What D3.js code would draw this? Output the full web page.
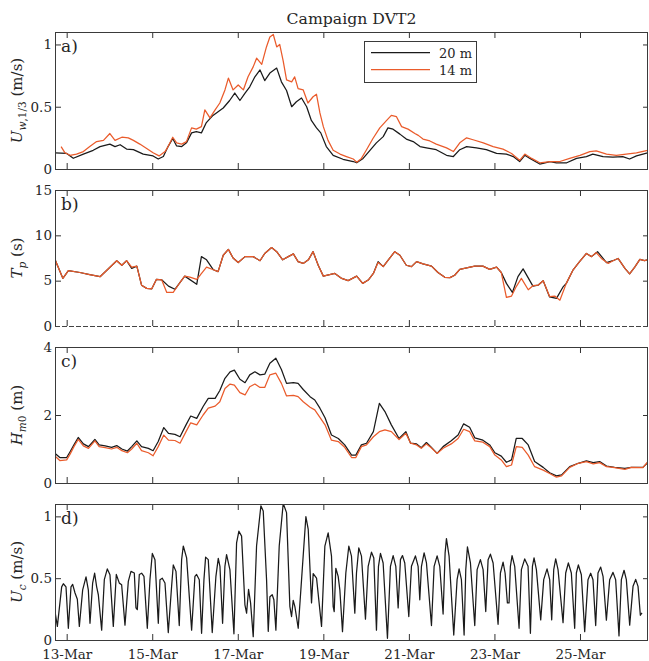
<!DOCTYPE html>
<html>
<head>
<meta charset="utf-8">
<script src="https://cdn.jsdelivr.net/npm/d3@7"></script>
<style>
  body { margin: 0; background: #fff; }
  text { font-family: "DejaVu Serif", serif; fill: #262626; }
</style>
</head>
<body>
<svg id="chart" width="649" height="661"></svg>
<script>
// time is in days from 13-Mar 00:00
const xStartDay = -0.273;
const xEndDay = 13.59;
const tickDays = [0, 2, 4, 6, 8, 10, 12];

// a) Uw,1/3 (m/s)
const uw20Day = [-0.27, 0, 0.155, 0.39, 0.62, 0.78, 1.01, 1.13, 1.25, 1.4, 1.56, 1.79, 2.02, 2.14, 2.26, 2.37, 2.48, 2.57, 2.69, 2.8, 2.92, 3.03, 3.15, 3.26, 3.42, 3.54, 3.66, 3.81, 3.93, 4.05, 4.17, 4.28, 4.4, 4.52, 4.63, 4.75, 4.91, 5.02, 5.14, 5.26, 5.37, 5.49, 5.61, 5.72, 5.84, 5.94, 6.07, 6.23, 6.46, 6.7, 6.78, 6.93, 7.09, 7.24, 7.4, 7.51, 7.63, 7.79, 7.94, 8.1, 8.26, 8.41, 8.64, 8.88, 9.04, 9.19, 9.35, 9.58, 9.81, 10.05, 10.28, 10.44, 10.59, 10.71, 10.83, 11.06, 11.3, 11.45, 11.69, 11.92, 12.15, 12.3, 12.54, 12.77, 13.0, 13.16, 13.32, 13.58];
const uw20 = [0.13, 0.125, 0.086, 0.12, 0.15, 0.18, 0.2, 0.18, 0.195, 0.16, 0.155, 0.12, 0.105, 0.08, 0.1, 0.18, 0.245, 0.185, 0.18, 0.21, 0.29, 0.3, 0.29, 0.37, 0.43, 0.46, 0.49, 0.55, 0.61, 0.55, 0.61, 0.66, 0.74, 0.795, 0.71, 0.77, 0.81, 0.7, 0.63, 0.5, 0.54, 0.57, 0.5, 0.39, 0.33, 0.29, 0.18, 0.11, 0.078, 0.06, 0.05, 0.085, 0.15, 0.21, 0.26, 0.33, 0.32, 0.28, 0.24, 0.22, 0.18, 0.17, 0.155, 0.11, 0.1, 0.155, 0.18, 0.17, 0.155, 0.125, 0.12, 0.1, 0.06, 0.11, 0.085, 0.04, 0.06, 0.05, 0.05, 0.085, 0.1, 0.12, 0.1, 0.095, 0.1, 0.08, 0.105, 0.13];
const uw14Day = [-0.13, -0.04, 0.08, 0.23, 0.39, 0.54, 0.7, 0.86, 1.01, 1.13, 1.29, 1.44, 1.56, 1.71, 1.87, 2.02, 2.16, 2.3, 2.37, 2.48, 2.57, 2.69, 2.8, 2.92, 3.03, 3.15, 3.23, 3.35, 3.47, 3.58, 3.7, 3.78, 3.89, 4.01, 4.13, 4.24, 4.36, 4.44, 4.56, 4.67, 4.75, 4.83, 4.91, 4.98, 5.06, 5.14, 5.26, 5.33, 5.41, 5.53, 5.64, 5.76, 5.84, 5.92, 6.0, 6.11, 6.23, 6.39, 6.54, 6.7, 6.78, 6.89, 7.01, 7.16, 7.32, 7.48, 7.59, 7.71, 7.83, 7.98, 8.14, 8.22, 8.33, 8.49, 8.64, 8.88, 9.04, 9.19, 9.35, 9.5, 9.74, 9.97, 10.2, 10.4, 10.59, 10.71, 10.87, 11.06, 11.3, 11.53, 11.76, 12.0, 12.23, 12.38, 12.62, 12.85, 13.08, 13.32, 13.58];
const uw14 = [0.18, 0.13, 0.11, 0.12, 0.14, 0.18, 0.22, 0.23, 0.285, 0.23, 0.255, 0.25, 0.23, 0.2, 0.165, 0.13, 0.105, 0.14, 0.18, 0.255, 0.21, 0.2, 0.22, 0.33, 0.32, 0.34, 0.475, 0.41, 0.475, 0.53, 0.635, 0.73, 0.635, 0.675, 0.635, 0.74, 0.82, 0.89, 0.84, 0.98, 1.06, 1.08, 0.98, 1.0, 0.87, 0.715, 0.7, 0.74, 0.645, 0.635, 0.53, 0.58, 0.6, 0.45, 0.34, 0.23, 0.15, 0.12, 0.1, 0.08, 0.055, 0.085, 0.155, 0.245, 0.33, 0.39, 0.43, 0.42, 0.34, 0.32, 0.285, 0.27, 0.24, 0.225, 0.2, 0.17, 0.14, 0.21, 0.25, 0.235, 0.21, 0.18, 0.16, 0.125, 0.07, 0.12, 0.085, 0.05, 0.06, 0.06, 0.085, 0.11, 0.14, 0.145, 0.12, 0.11, 0.12, 0.13, 0.15];

// b) Tp (s)
const tp20Day = [-0.27, -0.09, 0.04, 0.31, 0.51, 0.78, 1.17, 1.29, 1.4, 1.52, 1.64, 1.75, 1.87, 1.99, 2.1, 2.22, 2.38, 2.53, 2.76, 3.04, 3.15, 3.27, 3.43, 3.54, 3.66, 3.78, 3.89, 4.01, 4.17, 4.36, 4.52, 4.63, 4.79, 4.91, 5.05, 5.18, 5.3, 5.41, 5.53, 5.65, 5.76, 5.88, 6.0, 6.27, 6.43, 6.58, 6.78, 6.92, 7.05, 7.17, 7.28, 7.4, 7.52, 7.67, 7.79, 7.94, 8.06, 8.18, 8.33, 8.53, 8.68, 8.84, 8.96, 9.07, 9.19, 9.35, 9.54, 9.73, 9.89, 10.05, 10.16, 10.28, 10.42, 10.55, 10.67, 10.9, 11.02, 11.14, 11.29, 11.45, 11.61, 11.68, 11.84, 11.99, 12.15, 12.27, 12.41, 12.62, 12.77, 12.89, 13.05, 13.16, 13.28, 13.4, 13.51, 13.61];
const tp20 = [7.3, 5.26, 6.1, 5.9, 5.7, 5.44, 7.2, 6.7, 7.2, 6.35, 6.6, 4.5, 4.15, 4.1, 5.15, 5.1, 4.4, 4.05, 5.5, 4.6, 7.65, 7.3, 6.2, 6.0, 7.8, 8.45, 7.5, 7.0, 7.65, 7.65, 7.2, 8.0, 8.65, 8.2, 7.3, 7.65, 7.95, 7.1, 6.9, 7.3, 8.2, 6.7, 5.5, 5.8, 5.25, 5.0, 5.5, 4.7, 5.07, 5.8, 7.1, 6.55, 7.3, 8.2, 7.8, 6.7, 6.55, 7.1, 6.85, 6.6, 5.9, 5.37, 5.33, 5.6, 6.25, 6.4, 6.6, 6.6, 6.25, 6.5, 5.9, 4.7, 3.7, 5.45, 6.3, 4.4, 4.5, 5.0, 3.2, 3.05, 4.35, 4.7, 6.2, 7.1, 8.0, 7.65, 8.2, 7.0, 7.2, 7.45, 6.35, 5.75, 6.5, 7.35, 7.2, 7.35];
const tp14Day = [-0.27, -0.09, 0.04, 0.31, 0.51, 0.78, 1.17, 1.29, 1.4, 1.52, 1.64, 1.75, 1.87, 1.99, 2.1, 2.22, 2.34, 2.49, 2.65, 2.76, 2.88, 3.04, 3.12, 3.27, 3.43, 3.54, 3.66, 3.78, 3.89, 4.01, 4.17, 4.36, 4.52, 4.63, 4.79, 4.91, 5.05, 5.18, 5.3, 5.41, 5.53, 5.65, 5.76, 5.88, 6.0, 6.27, 6.43, 6.58, 6.78, 6.92, 7.05, 7.17, 7.28, 7.4, 7.52, 7.67, 7.79, 7.94, 8.06, 8.18, 8.33, 8.53, 8.68, 8.84, 8.96, 9.07, 9.19, 9.35, 9.54, 9.73, 9.89, 10.05, 10.16, 10.28, 10.4, 10.51, 10.63, 10.79, 10.9, 11.02, 11.14, 11.29, 11.41, 11.53, 11.68, 11.84, 11.99, 12.15, 12.27, 12.38, 12.5, 12.66, 12.77, 12.89, 13.05, 13.16, 13.28, 13.4, 13.51, 13.61];
const tp14 = [7.3, 5.26, 6.1, 5.9, 5.7, 5.44, 7.2, 6.7, 7.2, 6.5, 6.6, 4.5, 4.15, 4.1, 5.15, 5.1, 3.7, 3.7, 4.8, 5.5, 5.4, 5.15, 5.6, 6.5, 6.2, 6.0, 7.8, 8.45, 7.5, 7.0, 7.65, 7.65, 7.2, 8.0, 8.65, 8.2, 7.3, 7.65, 7.95, 7.1, 6.9, 7.3, 8.2, 6.7, 5.5, 5.8, 5.25, 5.0, 5.5, 4.7, 5.07, 5.8, 7.0, 6.55, 7.3, 8.2, 7.8, 6.7, 6.55, 7.1, 6.85, 6.6, 5.9, 5.37, 5.33, 5.6, 6.25, 6.4, 6.6, 6.6, 6.25, 6.5, 5.9, 3.15, 3.3, 4.35, 5.25, 4.0, 4.45, 4.5, 5.0, 3.25, 3.3, 2.85, 4.7, 6.2, 7.1, 8.0, 7.65, 8.1, 7.45, 6.9, 7.2, 7.45, 6.35, 5.75, 6.5, 7.35, 7.2, 7.35];

// c) Hm0 (m)
const hmDay = [-0.27, -0.16, 0, 0.08, 0.17, 0.27, 0.39, 0.51, 0.66, 0.76, 0.9, 1.05, 1.17, 1.29, 1.42, 1.52, 1.64, 1.75, 1.91, 2.02, 2.14, 2.27, 2.38, 2.53, 2.65, 2.79, 2.9, 3.04, 3.19, 3.31, 3.47, 3.58, 3.7, 3.82, 3.92, 4.05, 4.17, 4.28, 4.4, 4.52, 4.63, 4.75, 4.89, 5.02, 5.14, 5.3, 5.41, 5.53, 5.69, 5.8, 5.92, 6.04, 6.19, 6.35, 6.5, 6.66, 6.76, 6.89, 7.01, 7.17, 7.31, 7.44, 7.59, 7.77, 7.93, 8.04, 8.18, 8.29, 8.41, 8.51, 8.66, 8.8, 8.99, 9.15, 9.28, 9.42, 9.54, 9.73, 9.89, 10.01, 10.16, 10.28, 10.4, 10.51, 10.65, 10.79, 10.94, 11.14, 11.29, 11.45, 11.57, 11.76, 11.96, 12.15, 12.31, 12.46, 12.62, 12.81, 13.05, 13.2, 13.47, 13.61];
const hm20 = [0.87, 0.75, 0.75, 0.92, 1.12, 1.34, 1.15, 1.07, 1.28, 1.12, 1.09, 1.05, 1.1, 1.0, 0.94, 1.07, 1.24, 1.07, 1.02, 0.95, 1.22, 1.63, 1.46, 1.43, 1.36, 1.71, 1.97, 1.9, 2.25, 2.49, 2.49, 2.72, 3.08, 3.27, 3.32, 3.05, 2.95, 3.18, 3.27, 3.18, 3.2, 3.52, 3.67, 3.34, 2.93, 2.95, 2.93, 2.75, 2.54, 2.44, 2.2, 1.92, 1.41, 1.31, 1.12, 0.82, 0.82, 1.12, 1.17, 1.51, 2.34, 2.1, 1.71, 1.31, 1.51, 1.17, 1.15, 1.04, 1.19, 1.07, 0.87, 1.07, 1.24, 1.41, 1.74, 1.64, 1.33, 1.26, 1.12, 0.89, 0.79, 0.61, 0.68, 1.31, 1.31, 1.12, 0.63, 0.46, 0.3, 0.21, 0.24, 0.48, 0.58, 0.65, 0.6, 0.63, 0.5, 0.46, 0.43, 0.46, 0.46, 0.63];
const hm14 = [0.79, 0.66, 0.68, 0.85, 1.07, 1.28, 1.09, 1.02, 1.24, 1.07, 1.04, 1.0, 1.05, 0.95, 0.89, 1.0, 1.17, 0.95, 0.89, 0.8, 1.07, 1.41, 1.26, 1.25, 1.17, 1.51, 1.77, 1.71, 2.0, 2.2, 2.26, 2.39, 2.78, 2.91, 2.88, 2.66, 2.59, 2.83, 2.91, 2.81, 2.81, 3.18, 3.23, 2.93, 2.56, 2.58, 2.54, 2.39, 2.23, 2.15, 1.93, 1.71, 1.26, 1.22, 1.05, 0.75, 0.75, 1.07, 1.12, 1.36, 1.51, 1.56, 1.51, 1.28, 1.46, 1.17, 1.12, 1.02, 1.15, 1.05, 0.87, 1.02, 1.15, 1.31, 1.58, 1.51, 1.24, 1.2, 1.07, 0.82, 0.68, 0.48, 0.53, 1.07, 1.05, 0.82, 0.48, 0.38, 0.28, 0.17, 0.21, 0.46, 0.58, 0.63, 0.56, 0.6, 0.48, 0.45, 0.4, 0.46, 0.45, 0.66];

// d) Uc (m/s)
const ucDay = [-0.273, -0.218, -0.117, -0.078, -0.016, 0.039, 0.101, 0.14, 0.195, 0.249, 0.296, 0.374, 0.452, 0.506, 0.545, 0.607, 0.654, 0.701, 0.74, 0.818, 0.88, 0.95, 1.012, 1.09, 1.16, 1.231, 1.285, 1.363, 1.441, 1.503, 1.581, 1.62, 1.651, 1.698, 1.752, 1.807, 1.885, 1.947, 2.002, 2.064, 2.142, 2.181, 2.235, 2.298, 2.375, 2.453, 2.492, 2.555, 2.632, 2.687, 2.726, 2.804, 2.921, 2.998, 3.037, 3.1, 3.154, 3.209, 3.248, 3.31, 3.403, 3.489, 3.544, 3.583, 3.645, 3.699, 3.738, 3.816, 3.91, 3.972, 4.026, 4.089, 4.167, 4.206, 4.252, 4.299, 4.361, 4.439, 4.54, 4.595, 4.673, 4.712, 4.751, 4.805, 4.844, 4.891, 4.969, 5.062, 5.14, 5.218, 5.257, 5.296, 5.335, 5.413, 5.491, 5.592, 5.647, 5.724, 5.763, 5.841, 5.958, 6.036, 6.113, 6.191, 6.23, 6.254, 6.292, 6.347, 6.386, 6.448, 6.526, 6.596, 6.658, 6.736, 6.775, 6.829, 6.892, 6.985, 7.048, 7.126, 7.18, 7.242, 7.289, 7.336, 7.398, 7.499, 7.569, 7.632, 7.694, 7.749, 7.803, 7.85, 7.904, 7.998, 8.06, 8.153, 8.216, 8.255, 8.294, 8.356, 8.411, 8.528, 8.59, 8.66, 8.722, 8.8, 8.847, 8.878, 8.94, 9.049, 9.127, 9.174, 9.228, 9.291, 9.33, 9.369, 9.439, 9.54, 9.595, 9.672, 9.735, 9.797, 9.852, 9.906, 9.969, 10.085, 10.14, 10.202, 10.249, 10.303, 10.342, 10.373, 10.412, 10.474, 10.576, 10.63, 10.708, 10.786, 10.841, 10.888, 10.926, 10.981, 11.082, 11.152, 11.23, 11.292, 11.339, 11.386, 11.432, 11.487, 11.604, 11.666, 11.728, 11.798, 11.876, 11.915, 11.962, 12.032, 12.11, 12.187, 12.25, 12.304, 12.367, 12.421, 12.484, 12.539, 12.617, 12.694, 12.772, 12.834, 12.912, 12.967, 13.03, 13.084, 13.162, 13.24, 13.302, 13.357, 13.411, 13.45];
const uc = [0.23, 0.11, 0.43, 0.455, 0.43, 0.095, 0.43, 0.45, 0.38, 0.33, 0.11, 0.406, 0.51, 0.406, 0.135, 0.461, 0.54, 0.43, 0.366, 0.08, 0.488, 0.575, 0.528, 0.11, 0.53, 0.46, 0.447, 0.12, 0.474, 0.555, 0.542, 0.26, 0.245, 0.53, 0.54, 0.515, 0.095, 0.488, 0.7, 0.65, 0.135, 0.488, 0.5, 0.461, 0.06, 0.434, 0.607, 0.555, 0.117, 0.65, 0.76, 0.664, 0.08, 0.515, 0.53, 0.488, 0.054, 0.488, 0.67, 0.65, 0.06, 0.515, 0.66, 0.596, 0.135, 0.596, 0.69, 0.57, 0.05, 0.786, 0.88, 0.84, 0.285, 0.217, 0.41, 0.3, 0.027, 0.76, 1.085, 1.043, 0.488, 0.07, 0.35, 0.366, 0.325, 0.08, 0.76, 1.105, 1.03, 0.27, 0.19, 0.32, 0.27, 0.095, 0.488, 0.997, 0.894, 0.3, 0.537, 0.501, 0.11, 0.76, 0.867, 0.678, 0.27, 0.23, 0.58, 0.515, 0.406, 0.068, 0.542, 0.76, 0.678, 0.217, 0.542, 0.745, 0.678, 0.168, 0.596, 0.71, 0.664, 0.08, 0.596, 0.7, 0.623, 0.014, 0.596, 0.683, 0.596, 0.26, 0.65, 0.683, 0.623, 0.19, 0.596, 0.68, 0.596, 0.325, 0.596, 0.705, 0.623, 0.117, 0.596, 0.68, 0.596, 0.21, 0.705, 0.82, 0.678, 0.04, 0.488, 0.575, 0.488, 0.04, 0.569, 0.753, 0.623, 0.117, 0.569, 0.65, 0.569, 0.23, 0.65, 0.694, 0.623, 0.127, 0.542, 0.63, 0.542, 0.3, 0.3, 0.596, 0.683, 0.596, 0.095, 0.569, 0.656, 0.596, 0.054, 0.596, 0.664, 0.569, 0.163, 0.488, 0.575, 0.488, 0.163, 0.569, 0.656, 0.569, 0.14, 0.542, 0.623, 0.542, 0.095, 0.542, 0.607, 0.528, 0.068, 0.488, 0.54, 0.488, 0.117, 0.542, 0.59, 0.515, 0.16, 0.488, 0.547, 0.488, 0.033, 0.488, 0.564, 0.488, 0.12, 0.434, 0.49, 0.434, 0.2, 0.22];

const legendLabels = ['20 m', '14 m'];
const colors = { m20: '#1a1a1a', m14: '#ea5b2b' };

const svg = d3.select('#chart');
const left = 55;
const right = 648;
const t0 = Date.UTC(2019, 2, 13);
const toDate = d => new Date(t0 + d * 864e5);

const x = d3.scaleUtc()
    .domain([toDate(xStartDay), toDate(xEndDay)])
    .range([left, right]);

const panels = [
    {
        id: 'a', top: 32, bottom: 169, domain: [0, 1.1], ticks: [0, 0.5, 1],
        label: [{ t: 'U', i: true }, { t: 'w', i: true, sub: true }, { t: ',1/3', sub: true }, { t: ' (m/s)' }],
        series: [{ t: uw20Day, v: uw20, c: colors.m20 }, { t: uw14Day, v: uw14, c: colors.m14 }]
    },
    {
        id: 'b', top: 190, bottom: 326, domain: [0, 15], ticks: [0, 5, 10, 15],
        label: [{ t: 'T', i: true }, { t: 'p', i: true, sub: true }, { t: ' (s)' }],
        series: [{ t: tp20Day, v: tp20, c: colors.m20 }, { t: tp14Day, v: tp14, c: colors.m14 }]
    },
    {
        id: 'c', top: 347, bottom: 483, domain: [0, 4], ticks: [0, 2, 4],
        label: [{ t: 'H', i: true }, { t: 'm', i: true, sub: true }, { t: '0', sub: true }, { t: ' (m)' }],
        series: [{ t: hmDay, v: hm20, c: colors.m20 }, { t: hmDay, v: hm14, c: colors.m14 }]
    },
    {
        id: 'd', top: 504, bottom: 640, domain: [0, 1.1], ticks: [0, 0.5, 1],
        label: [{ t: 'U', i: true }, { t: 'c', i: true, sub: true }, { t: ' (m/s)' }],
        series: [{ t: ucDay, v: uc, c: colors.m20 }]
    }
];

const defs = svg.append('defs');

panels.forEach((p, idx) => {
    const y = d3.scaleLinear().domain(p.domain).range([p.bottom, p.top]);
    const g = svg.append('g');
    const last = idx === panels.length - 1;

    defs.append('clipPath').attr('id', 'clip-' + p.id)
        .append('rect')
        .attr('x', left).attr('y', p.top)
        .attr('width', right - left).attr('height', p.bottom - p.top);

    // lines
    const line = d3.line().x(d => x(toDate(d[0]))).y(d => y(d[1]));
    const plot = g.append('g').attr('clip-path', `url(#clip-${p.id})`);
    p.series.forEach(s => {
        plot.append('path')
            .datum(d3.zip(s.t, s.v))
            .attr('fill', 'none')
            .attr('stroke', s.c)
            .attr('stroke-width', 1.25)
            .attr('stroke-linejoin', 'round')
            .attr('d', line);
    });

    // axes, ticks pointing inwards
    const tickDates = tickDays.map(toDate);
    const styleAxis = sel => {
        sel.attr('font-family', null);
        sel.select('.domain').remove();
        sel.selectAll('.tick line').attr('stroke', '#333');
        sel.selectAll('text').style('font-size', '13.5px').attr('fill', '#262626');
    };
    g.append('g').attr('transform', `translate(0,${p.bottom})`)
        .call(d3.axisBottom(x).tickValues(tickDates).tickSize(-6).tickPadding(9)
            .tickFormat(last ? d3.utcFormat('%d-%b') : ''))
        .call(styleAxis);
    g.append('g').attr('transform', `translate(0,${p.top})`)
        .call(d3.axisTop(x).tickValues(tickDates).tickSize(-6).tickFormat(''))
        .call(styleAxis);
    g.append('g').attr('transform', `translate(${left},0)`)
        .call(d3.axisLeft(y).tickValues(p.ticks).tickSize(-6).tickPadding(3).tickFormat(d3.format('~g')))
        .call(styleAxis);
    g.append('g').attr('transform', `translate(${right},0)`)
        .call(d3.axisRight(y).tickValues(p.ticks).tickSize(-5).tickFormat(''))
        .call(styleAxis);

    // box
    g.append('rect')
        .attr('x', left + 0.5).attr('y', p.top + 0.5)
        .attr('width', right - left - 1).attr('height', p.bottom - p.top)
        .attr('fill', 'none').attr('stroke', '#3a3a3a').attr('stroke-width', 1);

    if (p.id === 'b') {
        // dashed zero line over the bottom edge
        g.append('line')
            .attr('x1', left).attr('x2', right)
            .attr('y1', y(0) + 0.5).attr('y2', y(0) + 0.5)
            .attr('stroke', '#fff').attr('stroke-width', 1.2);
        g.append('line')
            .attr('x1', left).attr('x2', right)
            .attr('y1', y(0) + 0.5).attr('y2', y(0) + 0.5)
            .attr('stroke', '#444').attr('stroke-width', 1.2)
            .attr('stroke-dasharray', '5,2');
    }

    // panel letter
    g.append('text')
        .attr('x', left + 6).attr('y', p.top + 20)
        .style('font-size', '17px')
        .text(p.id + ')');

    // y label
    const lab = g.append('text')
        .attr('transform', `translate(22,${(p.top + p.bottom) / 2}) rotate(-90)`)
        .attr('text-anchor', 'middle')
        .style('font-size', '15px');
    let inSub = false;
    p.label.forEach(part => {
        const ts = lab.append('tspan').text(part.t);
        if (part.i) ts.style('font-style', 'italic');
        if (part.sub) {
            ts.style('font-size', '10.5px');
            if (!inSub) ts.attr('dy', 4);
            inSub = true;
        } else if (inSub) {
            ts.attr('dy', -4);
            inSub = false;
        }
    });
});

// title
svg.append('text')
    .attr('x', (left + right) / 2).attr('y', 24)
    .attr('text-anchor', 'middle')
    .style('font-size', '15.7px')
    .text('Campaign DVT2');

// legend
const legend = svg.append('g').attr('transform', 'translate(364,41)');
legend.append('rect')
    .attr('x', 0.5).attr('y', 0.5).attr('width', 112).attr('height', 41)
    .attr('fill', '#fff').attr('stroke', '#3a3a3a');
[colors.m20, colors.m14].forEach((c, i) => {
    legend.append('line')
        .attr('x1', 7).attr('x2', 66)
        .attr('y1', 11.5 + i * 17).attr('y2', 11.5 + i * 17)
        .attr('stroke', c).attr('stroke-width', 1.25);
    legend.append('text')
        .attr('x', 75).attr('y', 16.5 + i * 17)
        .style('font-size', '13px')
        .text(legendLabels[i]);
});
</script>
</body>
</html>
